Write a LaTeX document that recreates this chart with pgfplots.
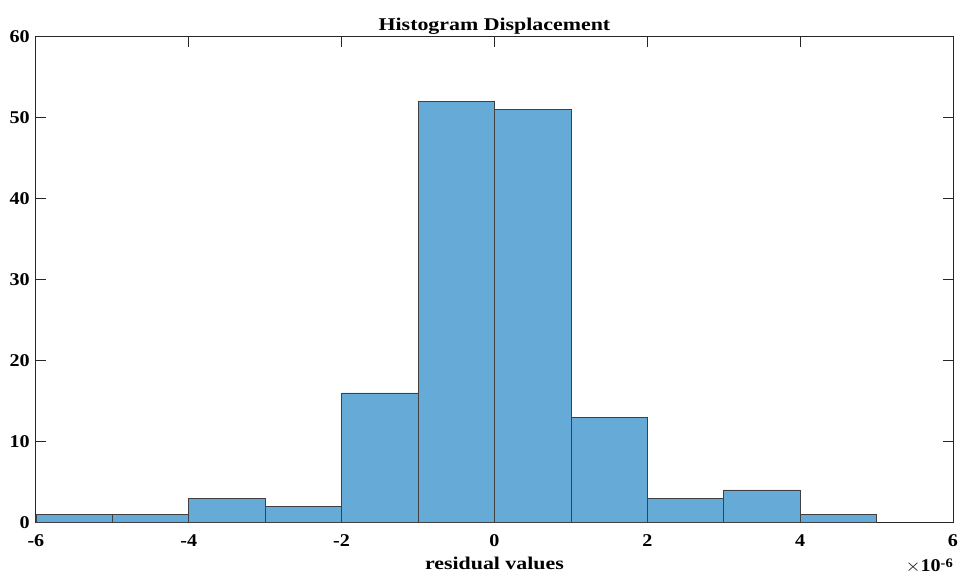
\documentclass[border=0pt]{standalone}
\usepackage{pgfplots}
\pgfplotsset{compat=1.18}
\usepackage{fontspec}
\setmainfont{Liberation Serif}
\definecolor{barblue}{RGB}{102,170,215}
\definecolor{axgray}{RGB}{38,38,38}
\begin{document}
\begin{tikzpicture}
\useasboundingbox (-36pt,-54pt) rectangle (926pt,524pt);
\begin{axis}[
  name=ax,
  at={(0pt,0pt)}, anchor=south west,
  scale only axis,
  width=920pt, height=487pt,
  xmin=-6, xmax=6, ymin=0, ymax=60,
  xtick={-6,-4,-2,0,2,4,6},
  xticklabels={-6,-4,-2,0,2,4,6},
  ytick={0,10,20,30,40,50,60},
  scaled x ticks=false,
  tick align=inside,
  major tick length=10pt,
  axis line style={axgray, line width=0.8pt},
  every tick/.style={axgray, line width=0.8pt},
  tick label style={font=\fontsize{18}{20}\selectfont\bfseries, xscale=1.12},
  /pgf/number format/assume math mode=true,
  xticklabel style={yshift=-9pt},
  yticklabel style={xshift=-2pt},
  title={Histogram Displacement},
  title style={font=\fontsize{18}{20}\selectfont\bfseries, xscale=1.22, yshift=-7pt},
  xlabel={residual values},
  xlabel style={font=\fontsize{18}{20}\selectfont\bfseries, xscale=1.22, yshift=-3pt},
  clip=false,
]
\addplot[ybar interval, fill=barblue, draw=black!75, line width=0.6pt]
  coordinates {(-6,1) (-5,1) (-4,3) (-3,2) (-2,16) (-1,52) (0,51) (1,13) (2,3) (3,4) (4,1) (5,1)};
\node[anchor=north east, font=\fontsize{18}{20}\selectfont, inner sep=0pt, xscale=1.12] at ([xshift=0pt,yshift=-36pt]rel axis cs:1,0) {$\times$\textbf{10}\raisebox{0.6ex}{\fontsize{13}{14}\selectfont\bfseries -6}};
\end{axis}
\end{tikzpicture}
\end{document}
